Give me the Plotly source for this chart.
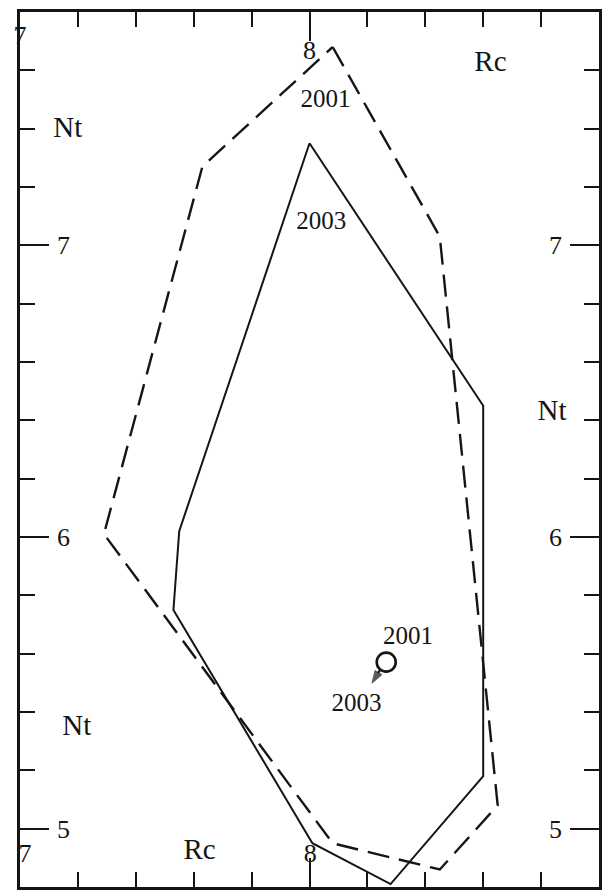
import plotly.graph_objects as go

# ---- data (Rc on x, Nt on y) ----
rc_2001 = [8.08, 8.45, 8.65, 8.45, 8.08, 7.29, 7.63, 8.08]
nt_2001 = [7.68, 7.03, 5.08, 4.86, 4.95, 6.01, 7.27, 7.68]

rc_2003 = [8.00, 8.60, 8.60, 8.28, 8.01, 7.53, 7.55, 8.00]
nt_2003 = [7.35, 6.45, 5.18, 4.81, 4.95, 5.75, 6.02, 7.35]

point_rc_2001, point_nt_2001 = 8.265, 5.571
point_rc_2003, point_nt_2003 = 8.216, 5.499

rc_tick_labels = [7, 8, 9]
nt_tick_labels = [5, 6, 7]
rc_range = [7, 9]
nt_range = [4.8, 7.8]

year_text = ["2001", "2003", "2001", "2003"]
year_x = [8.055, 8.041, 8.340, 8.162]
year_y = [7.497, 7.079, 5.656, 5.426]

name_text = ["Rc", "Nt", "Nt", "Nt", "Rc"]
name_x = [8.625, 7.165, 8.838, 7.196, 7.62]
name_y = [7.621, 7.398, 6.427, 5.347, 4.922]

FONT = "Liberation Serif"
INK = "#151515"

fig = go.Figure()

fig.add_trace(go.Scatter(x=rc_2001, y=nt_2001, mode="lines",
                         line=dict(color=INK, width=2.4, dash="22px,10px")))
fig.add_trace(go.Scatter(x=rc_2003, y=nt_2003, mode="lines",
                         line=dict(color=INK, width=2)))
fig.add_trace(go.Scatter(x=[point_rc_2001], y=[point_nt_2001], mode="markers",
                         marker=dict(symbol="circle-open", size=19,
                                     line=dict(color=INK, width=2.6), color=INK)))
# arrow 2001 -> 2003
fig.add_trace(go.Scatter(x=[8.243, point_rc_2003], y=[5.543, point_nt_2003],
                         mode="lines+markers",
                         line=dict(color=INK, width=2.2),
                         marker=dict(symbol="arrow", size=[0, 13], angleref="previous",
                                     color=INK, line=dict(width=1, color=INK))))

def text_trace(xs, ys, texts, size):
    fig.add_trace(go.Scatter(x=xs, y=ys, text=texts, mode="text",
                             textposition="middle center", cliponaxis=False,
                             textfont=dict(family=FONT, size=size, color=INK)))

text_trace(year_x, year_y, year_text, 25)
text_trace(name_x, name_y, name_text, 29)

# tick labels
top_y = [7.713, 7.662]
text_trace(rc_tick_labels[:2], top_y, [str(v) for v in rc_tick_labels[:2]], 26)
text_trace([v + (0.017 if v == 7 else 0.003) for v in rc_tick_labels],
           [4.907] * len(rc_tick_labels), [str(v) for v in rc_tick_labels], 26)
text_trace([7.15] * len(nt_tick_labels), [v - 0.008 for v in nt_tick_labels],
           [str(v) for v in nt_tick_labels], 26)
text_trace([8.85] * len(nt_tick_labels), [v - 0.008 for v in nt_tick_labels],
           [str(v) for v in nt_tick_labels], 26)

base = dict(showgrid=False, zeroline=False, ticks="inside", tickcolor=INK,
            tickwidth=2.2, showline=True, linewidth=2.5, linecolor=INK,
            mirror="ticks", showticklabels=False, ticklen=29)

fig.update_layout(
    xaxis=dict(range=rc_range, tickvals=rc_tick_labels,
               minor=dict(tick0=7, dtick=0.2, ticks="inside", ticklen=15,
                          tickwidth=2.2, tickcolor=INK), **base),
    yaxis=dict(range=nt_range, tickvals=nt_tick_labels,
               minor=dict(tick0=4.8, dtick=0.2, ticks="inside", ticklen=15,
                          tickwidth=2.2, tickcolor=INK), **base),
    width=605, height=893,
    margin=dict(l=20, r=3, t=12, b=6),
    plot_bgcolor="white",
    showlegend=False, hovermode=False)

fig.write_html("out.html", config={"displayModeBar": False})
